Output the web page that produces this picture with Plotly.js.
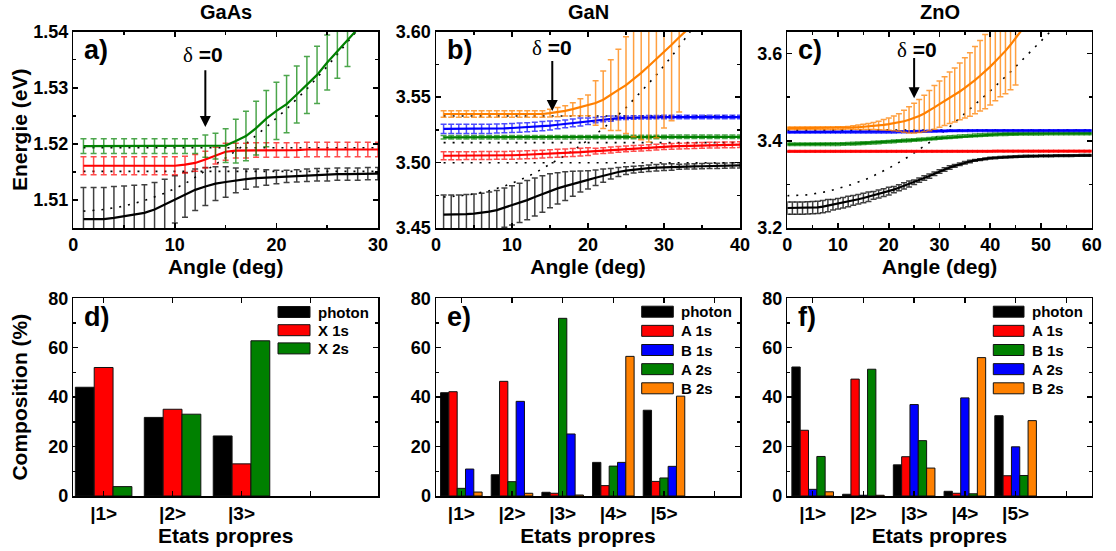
<!DOCTYPE html>
<html><head><meta charset="utf-8">
<script src="https://cdn.plot.ly/plotly-3.0.1.min.js"></script>
<style>html,body{margin:0;padding:0;background:#fff;}#chart{width:1116px;height:551px;}</style>
</head><body><div id="chart"></div>
<script>
// ---------------- GaAs (a) ----------------
const gaasAngle = [1,2,3,4,5,6,7,8,9,10,11,12,13,14,15,16,17,18,19,20,21,22,23,24,25,26,27,28,29,30];
const gaasLower = [1.5066,1.5066,1.5066,1.5068,1.5071,1.5074,1.5077,1.5083,1.5092,1.5101,1.5109,1.5118,1.5124,1.5129,1.5132,1.5135,1.5137,1.5139,1.5140,1.5141,1.5142,1.5143,1.5144,1.5145,1.5145,1.5146,1.5146,1.5146,1.5147,1.5147];
const gaasLowerErr = [0.0056,0.0056,0.0056,0.0056,0.0054,0.0052,0.0050,0.0048,0.0045,0.0042,0.0040,0.0037,0.0034,0.0030,0.0027,0.0022,0.0018,0.0016,0.0014,0.0012,0.0011,0.0011,0.0011,0.0011,0.0011,0.0011,0.0011,0.0011,0.0011,0.0011];
const gaasMiddle = [1.5161,1.5161,1.5161,1.5161,1.5161,1.5161,1.5161,1.5161,1.5161,1.5161,1.5163,1.5166,1.5172,1.5179,1.5186,1.5188,1.5188,1.5189,1.5189,1.5189,1.5189,1.5189,1.5190,1.5190,1.5190,1.5190,1.5190,1.5190,1.5190,1.5190];
const gaasMiddleErr = [0.0016,0.0016,0.0016,0.0016,0.0016,0.0016,0.0016,0.0016,0.0016,0.0016,0.0015,0.0015,0.0015,0.0015,0.0015,0.0013,0.0013,0.0013,0.0013,0.0013,0.0013,0.0013,0.0013,0.0013,0.0013,0.0013,0.0013,0.0013,0.0013,0.0013];
const gaasUpperAngle = [1,2,3,4,5,6,7,8,9,10,11,12,13,14,15,16,17,18,19,20,21,22,23,24,25,26,27,28];
const gaasUpper = [1.5196,1.5196,1.5196,1.5196,1.5196,1.5196,1.5196,1.5196,1.5196,1.5196,1.5196,1.5196,1.5196,1.5196,1.5197,1.5205,1.5214,1.5228,1.5245,1.5259,1.5271,1.5288,1.5305,1.5323,1.5345,1.5365,1.5386,1.5405];
const gaasUpperErr = [0.0013,0.0013,0.0013,0.0013,0.0013,0.0013,0.0013,0.0013,0.0013,0.0013,0.0013,0.0013,0.0020,0.0023,0.0030,0.0039,0.0044,0.0048,0.0050,0.0051,0.0051,0.0051,0.0051,0.0051,0.0049,0.0048,0.0048,NaN];
const gaasPhotonAngle = [1,3,5,7,9,11,13,15,17,19,21,23,25,27,29];
const gaasPhoton = [1.5080,1.5083,1.5089,1.5099,1.5112,1.5129,1.5152,1.5175,1.5200,1.5230,1.5262,1.5298,1.5338,1.5380,1.5425];
const gaasExcitonLevels = [1.5151,1.5193];

// ---------------- GaN (b) ----------------
const ganAngle = [1,2,3,4,5,6,7,8,9,10,11,12,13,14,15,16,17,18,19,20,21,22,23,24,25,26,27,28,29,30,31,32,33,34,35,36,37,38,39,40];
const ganLower = [3.4602,3.4602,3.4603,3.4606,3.4610,3.4615,3.4625,3.4637,3.4655,3.4672,3.4692,3.4713,3.4737,3.4760,3.4784,3.4803,3.4820,3.4838,3.4855,3.4868,3.4884,3.4900,3.4915,3.4928,3.4938,3.4946,3.4951,3.4957,3.4961,3.4964,3.4966,3.4968,3.4970,3.4971,3.4972,3.4974,3.4975,3.4976,3.4978,3.4979];
const ganLowerErr = [0.015,0.015,0.015,0.015,0.015,0.015,0.015,0.015,0.015,0.015,0.015,0.015,0.0145,0.014,0.013,0.012,0.011,0.0095,0.008,0.007,0.006,0.005,0.004,0.0035,0.003,0.0025,0.0025,0.0025,0.0025,0.0025,0.0025,0.002,0.002,0.002,0.002,0.002,0.002,0.002,0.002,0.002];
const ganA1s = [3.5052,3.5052,3.5052,3.5053,3.5053,3.5054,3.5054,3.5055,3.5055,3.5056,3.5058,3.5060,3.5062,3.5065,3.5068,3.5071,3.5074,3.5077,3.5080,3.5084,3.5088,3.5092,3.5096,3.5100,3.5104,3.5108,3.5111,3.5115,3.5118,3.5121,3.5124,3.5126,3.5128,3.5130,3.5132,3.5133,3.5134,3.5135,3.5136,3.5137];
const ganA1sErr = [0.003,0.003,0.003,0.003,0.003,0.003,0.003,0.003,0.003,0.003,0.003,0.003,0.003,0.003,0.003,0.003,0.003,0.003,0.003,0.003,0.0022,0.0022,0.0022,0.0022,0.0022,0.0022,0.0022,0.0022,0.0022,0.0022,0.0022,0.0022,0.0022,0.0022,0.0022,0.0022,0.0022,0.0022,0.0022,0.0022];
const ganA2s = [3.5193,3.5193,3.5193,3.5193,3.5193,3.5193,3.5193,3.5193,3.5193,3.5193,3.5193,3.5193,3.5193,3.5193,3.5193,3.5193,3.5193,3.5193,3.5193,3.5193,3.5195,3.5195,3.5195,3.5195,3.5195,3.5195,3.5195,3.5195,3.5195,3.5195,3.5197,3.5197,3.5197,3.5197,3.5197,3.5197,3.5197,3.5197,3.5197,3.5197];
const ganA2sErr = [0.0013,0.0013,0.0013,0.0013,0.0013,0.0013,0.0013,0.0013,0.0013,0.0013,0.0013,0.0013,0.0013,0.0013,0.0013,0.0013,0.0013,0.0013,0.0013,0.0013,0.0013,0.0013,0.0013,0.0013,0.0013,0.0013,0.0013,0.0013,0.0013,0.0013,0.0013,0.0013,0.0013,0.0013,0.0013,0.0013,0.0013,0.0013,0.0013,0.0013];
const ganB1s = [3.5257,3.5257,3.5257,3.5257,3.5257,3.5257,3.5258,3.5260,3.5262,3.5264,3.5267,3.5270,3.5274,3.5278,3.5283,3.5289,3.5296,3.5303,3.5310,3.5316,3.5324,3.5331,3.5336,3.5340,3.5342,3.5344,3.5345,3.5346,3.5347,3.5348,3.5348,3.5348,3.5348,3.5348,3.5348,3.5348,3.5348,3.5348,3.5348,3.5348];
const ganB1sErr = [0.0035,0.0035,0.0035,0.0035,0.0035,0.0035,0.0035,0.0035,0.0035,0.0035,0.0035,0.0035,0.0035,0.0035,0.0035,0.003,0.003,0.003,0.003,0.0025,0.002,0.002,0.002,0.0013,0.0013,0.0013,0.0013,0.0013,0.0013,0.0013,0.0013,0.0013,0.0013,0.0013,0.0013,0.0013,0.0013,0.0013,0.0013,0.0013];
const ganB2sAngle = [1,2,3,4,5,6,7,8,9,10,11,12,13,14,15,16,17,18,19,20,21,22,23,24,25,26,27,28,29,30,31,32,33];
const ganB2s = [3.5371,3.5371,3.5371,3.5371,3.5371,3.5371,3.5371,3.5371,3.5371,3.5371,3.5371,3.5371,3.5371,3.5371,3.5378,3.5385,3.5395,3.5408,3.5422,3.5437,3.5455,3.5480,3.5515,3.5555,3.5592,3.5637,3.5685,3.5738,3.5790,3.5845,3.5900,3.5957,3.6012];
const ganB2sErr = [0.0025,0.0025,0.0025,0.0025,0.0025,0.0025,0.0025,0.0025,0.0025,0.0025,0.0025,0.0025,0.0025,0.0025,0.003,0.0035,0.004,0.005,0.0065,0.008,0.017,0.022,0.027,0.031,0.037,0.044,0.051,0.058,0.060,0.058,0.058,0.057,NaN];
const ganPhotonAngle = [1,3,5,7,9,11,13,15,17,19,21,23,25,27,29,31,33,35];
const ganPhoton = [3.4737,3.4745,3.4760,3.4785,3.4820,3.4865,3.4920,3.4985,3.5055,3.5130,3.5215,3.5310,3.5420,3.5543,3.5670,3.5810,3.5960,3.6120];
const ganExcitonLevels = [3.4999,3.5152,3.5356];

// ---------------- ZnO (c) ----------------
const znoAngle = [0,1,2,3,4,5,6,7,8,9,10,11,12,13,14,15,16,17,18,19,20,21,22,23,24,25,26,27,28,29,30,31,32,33,34,35,36,37,38,39,40,41,42,43,44,45,46,47,48,49,50,51,52,53,54,55,56,57,58,59,60];
const znoLower = [3.2458,3.2458,3.2458,3.2458,3.2460,3.2465,3.2475,3.2490,3.2512,3.2533,3.2555,3.2580,3.2605,3.2633,3.2660,3.2688,3.2718,3.2748,3.2780,3.2812,3.2845,3.2880,3.2923,3.2965,3.3008,3.3050,3.3098,3.3145,3.3190,3.3245,3.3295,3.3342,3.3385,3.3425,3.3462,3.3495,3.3525,3.3550,3.3570,3.3587,3.3600,3.3610,3.3617,3.3625,3.3632,3.3637,3.3641,3.3645,3.3648,3.3650,3.3652,3.3654,3.3656,3.3658,3.3659,3.3660,3.3661,3.3662,3.3663,3.3664,3.3665];
const znoLowerErr = [0.014,0.014,0.014,0.014,0.014,0.014,0.014,0.014,0.014,0.012,0.012,0.012,0.012,0.011,0.011,0.011,0.011,0.009,0.009,0.009,0.009,0.007,0.007,0.007,0.007,0.005,0.005,0.005,0.005,0.004,0.004,0.004,0.004,0.003,0.003,0.003,0.003,0.002,0.002,0.002,0.002,0.002,0.002,0.002,0.002,0.002,0.002,0.002,0.002,0.002,0.002,0.002,0.002,0.002,0.002,0.002,0.002,0.002,0.002,0.002,0.002];
const znoA1s = [3.3755,3.3755,3.3755,3.3755,3.3755,3.3755,3.3755,3.3755,3.3755,3.3755,3.3755,3.3755,3.3755,3.3755,3.3755,3.3755,3.3755,3.3755,3.3755,3.3755,3.3755,3.3758,3.3758,3.3758,3.3758,3.3758,3.3758,3.3758,3.3758,3.3758,3.3758,3.3758,3.3758,3.3758,3.3758,3.3758,3.3758,3.3758,3.3758,3.3758,3.3758,3.3762,3.3762,3.3762,3.3762,3.3762,3.3762,3.3762,3.3762,3.3762,3.3762,3.3762,3.3762,3.3762,3.3762,3.3762,3.3762,3.3762,3.3762,3.3762,3.3762];
const znoA1sErr = [0.002,0.002,0.002,0.002,0.002,0.002,0.002,0.002,0.002,0.002,0.002,0.002,0.002,0.002,0.002,0.002,0.002,0.002,0.002,0.002,0.002,0.002,0.002,0.002,0.002,0.002,0.002,0.002,0.002,0.002,0.002,0.002,0.002,0.002,0.002,0.002,0.002,0.002,0.002,0.002,0.002,0.002,0.002,0.002,0.002,0.002,0.002,0.002,0.002,0.002,0.002,0.002,0.002,0.002,0.002,0.002,0.002,0.002,0.002,0.002,0.002];
const znoB1s = [3.3920,3.3920,3.3920,3.3920,3.3920,3.3920,3.3920,3.3920,3.3920,3.3920,3.3920,3.3925,3.3930,3.3935,3.3940,3.3945,3.3950,3.3957,3.3964,3.3970,3.3978,3.3986,3.3994,3.4002,3.4010,3.4018,3.4027,3.4036,3.4045,3.4055,3.4065,3.4074,3.4083,3.4092,3.4100,3.4108,3.4116,3.4123,3.4130,3.4136,3.4141,3.4146,3.4150,3.4153,3.4156,3.4158,3.4160,3.4161,3.4162,3.4163,3.4164,3.4165,3.4165,3.4166,3.4166,3.4166,3.4167,3.4167,3.4167,3.4167,3.4167];
const znoB1sErr = [0.003,0.003,0.003,0.003,0.003,0.003,0.003,0.003,0.003,0.003,0.003,0.003,0.003,0.003,0.003,0.003,0.003,0.003,0.003,0.003,0.003,0.003,0.003,0.003,0.003,0.003,0.003,0.003,0.003,0.003,0.003,0.003,0.003,0.003,0.003,0.003,0.003,0.003,0.003,0.003,0.003,0.003,0.003,0.003,0.003,0.003,0.003,0.003,0.003,0.003,0.003,0.003,0.003,0.003,0.003,0.003,0.003,0.003,0.003,0.003,0.003];
const znoA2s = [3.4197,3.4197,3.4197,3.4197,3.4197,3.4197,3.4197,3.4197,3.4197,3.4197,3.4197,3.4197,3.4197,3.4197,3.4197,3.4197,3.4197,3.4197,3.4197,3.4197,3.4197,3.4199,3.4202,3.4205,3.4208,3.4211,3.4214,3.4217,3.4220,3.4223,3.4226,3.4228,3.4230,3.4232,3.4233,3.4234,3.4235,3.4235,3.4235,3.4235,3.4235,3.4235,3.4235,3.4235,3.4235,3.4235,3.4235,3.4235,3.4235,3.4235,3.4235,3.4235,3.4235,3.4235,3.4235,3.4235,3.4235,3.4235,3.4235,3.4235,3.4235];
const znoA2sErr = [0.002,0.002,0.002,0.002,0.002,0.002,0.002,0.002,0.002,0.002,0.002,0.002,0.002,0.002,0.002,0.002,0.002,0.002,0.002,0.002,0.002,0.002,0.002,0.002,0.002,0.002,0.002,0.002,0.002,0.002,0.002,0.002,0.002,0.002,0.002,0.002,0.002,0.002,0.002,0.002,0.002,0.002,0.002,0.002,0.002,0.002,0.002,0.002,0.002,0.002,0.002,0.002,0.002,0.002,0.002,0.002,0.002,0.002,0.002,0.002,0.002];
const znoB2sAngle = [0,1,2,3,4,5,6,7,8,9,10,11,12,13,14,15,16,17,18,19,20,21,22,23,24,25,26,27,28,29,30,31,32,33,34,35,36,37,38,39,40,41,42,43,44,45,46,47];
const znoB2s = [3.4288,3.4288,3.4288,3.4288,3.4288,3.4288,3.4288,3.4288,3.4288,3.4288,3.4290,3.4293,3.4298,3.4305,3.4310,3.4318,3.4327,3.4337,3.4350,3.4365,3.4380,3.4398,3.4420,3.4447,3.4480,3.4520,3.4568,3.4625,3.4690,3.4765,3.4840,3.4910,3.4985,3.5050,3.5130,3.5210,3.5290,3.5390,3.5490,3.5586,3.5700,3.5816,3.5930,3.6060,3.6200,3.6350,3.6500,3.6660];
const znoB2sErr = [0.003,0.003,0.003,0.003,0.003,0.003,0.003,0.003,0.003,0.003,0.003,0.003,0.003,0.004,0.005,0.006,0.007,0.008,0.010,0.012,0.014,0.017,0.020,0.025,0.030,0.034,0.038,0.042,0.046,0.050,0.053,0.056,0.059,0.062,0.065,0.069,0.073,0.077,0.081,0.085,0.088,0.090,0.092,0.098,0.103,0.107,NaN,NaN];
const znoPhotonAngle = [0,4,8,12,16,20,24,28,32,36,40,44,48,52];
const znoPhoton = [3.274,3.276,3.284,3.297,3.314,3.337,3.364,3.396,3.432,3.472,3.514,3.558,3.604,3.652];
const znoExcitonLevels = [3.3755,3.4243];

// ---------------- Compositions (d, e, f) ----------------
const gaasStates = ['|1>','|2>','|3>'];
const gaasSeries = ['photon','X 1s','X 2s'];
const gaasPhotonPct = [44.0,31.8,24.3];
const gaasX1sPct = [52.0,35.1,13.0];
const gaasX2sPct = [3.8,33.1,62.8];

const ganStates = ['|1>','|2>','|3>','|4>','|5>'];
const ganSeries = ['photon','A 1s','B 1s','A 2s','B 2s'];
const ganPhotonPct = [41.8,8.6,1.5,13.6,34.7];
const ganA1sPct = [42.2,46.4,1.1,4.2,5.9];
const ganB1sPct = [10.9,38.3,25.1,13.6,12.0];
const ganA2sPct = [3.1,5.8,71.9,12.1,7.3];
const ganB2sPct = [1.6,1.1,0.4,56.5,40.4];

const znoStates = ['|1>','|2>','|3>','|4>','|5>'];
const znoSeries = ['photon','A 1s','B 1s','A 2s','B 2s'];
const znoPhotonPct = [52.2,0.7,12.6,1.9,32.5];
const znoA1sPct = [26.6,47.3,15.9,1.1,8.2];
const znoB1sPct = [16.0,51.3,22.4,0.9,8.3];
const znoA2sPct = [2.7,0.3,37.0,39.7,19.9];
const znoB2sPct = [1.7,0.3,11.3,56.0,30.5];

// ---------------- styling / layout ----------------
const C = {k:'#000000', r:'#ff0000', g:'#008000', b:'#0000ff', o:'#ff8000'};
const CE = {k:'rgba(0,0,0,0.75)', r:'rgba(255,0,0,0.7)', g:'rgba(0,128,0,0.7)', b:'rgba(0,0,255,0.7)', o:'rgba(255,128,0,0.75)'};
const W=1116, H=551, M={l:73,r:24,t:31,b:55};
const PW=W-M.l-M.r, PH=H-M.t-M.b;
const xp = px => (px-M.l)/PW;
const yp = py => (H-M.b-py)/PH;
const FONT = 'Liberation Sans, Arial, Helvetica, sans-serif';
const tickFont = {family:FONT, size:18, color:'#000', weight:'bold'};
const barTickFont = {family:FONT, size:19, color:'#000', weight:'bold'};
const axTitleFont = {family:FONT, size:21, color:'#000', weight:'bold'};

function solid(x,y,err,c,ax){
  return {type:'scatter', mode:'lines', x:x, y:y, xaxis:ax[0], yaxis:ax[1],
    line:{color:C[c], width:2.2}, showlegend:false, hoverinfo:'skip',
    error_y:{type:'data', array:err, visible:true, color:CE[c], thickness:1.5, width:3}};
}
function dotted(x,y,ax){
  return {type:'scatter', mode:'lines', x:x, y:y, xaxis:ax[0], yaxis:ax[1],
    line:{color:'#000', width:1.6, dash:'2px,7px'}, showlegend:false, hoverinfo:'skip'};
}
function level(v,xs,ax){ return dotted([xs[0], xs[xs.length-1]],[v,v],ax); }
function bars(states,vals,c,ax){
  return {type:'bar', x:states.map((s,i)=>i+1), y:vals, xaxis:ax[0], yaxis:ax[1],
    marker:{color:C[c], line:{color:'#111', width:1}}, showlegend:false, hoverinfo:'skip'};
}

const A=['x','y'], B=['x2','y2'], Cc=['x3','y3'], D=['x4','y4'], E=['x5','y5'], F=['x6','y6'];
const traces = [];
gaasExcitonLevels.forEach(v=>traces.push(level(v,gaasAngle,A)));
traces.push(dotted(gaasPhotonAngle,gaasPhoton,A));
traces.push(solid(gaasAngle,gaasLower,gaasLowerErr,'k',A));
traces.push(solid(gaasAngle,gaasMiddle,gaasMiddleErr,'r',A));
traces.push(solid(gaasUpperAngle,gaasUpper,gaasUpperErr,'g',A));

ganExcitonLevels.forEach(v=>traces.push(level(v,ganAngle,B)));
traces.push(dotted(ganPhotonAngle,ganPhoton,B));
traces.push(solid(ganAngle,ganLower,ganLowerErr,'k',B));
traces.push(solid(ganAngle,ganA1s,ganA1sErr,'r',B));
traces.push(solid(ganAngle,ganA2s,ganA2sErr,'g',B));
traces.push(solid(ganAngle,ganB1s,ganB1sErr,'b',B));
traces.push(solid(ganB2sAngle,ganB2s,ganB2sErr,'o',B));

znoExcitonLevels.forEach(v=>traces.push(level(v,znoAngle,Cc)));
traces.push(dotted(znoPhotonAngle,znoPhoton,Cc));
traces.push(solid(znoAngle,znoLower,znoLowerErr,'k',Cc));
traces.push(solid(znoAngle,znoA1s,znoA1sErr,'r',Cc));
traces.push(solid(znoAngle,znoB1s,znoB1sErr,'g',Cc));
traces.push(solid(znoAngle,znoA2s,znoA2sErr,'b',Cc));
traces.push(solid(znoB2sAngle,znoB2s,znoB2sErr,'o',Cc));

traces.push(bars(gaasStates,gaasPhotonPct,'k',D));
traces.push(bars(gaasStates,gaasX1sPct,'r',D));
traces.push(bars(gaasStates,gaasX2sPct,'g',D));

traces.push(bars(ganStates,ganPhotonPct,'k',E));
traces.push(bars(ganStates,ganA1sPct,'r',E));
traces.push(bars(ganStates,ganA2sPct,'g',E));
traces.push(bars(ganStates,ganB1sPct,'b',E));
traces.push(bars(ganStates,ganB2sPct,'o',E));

traces.push(bars(znoStates,znoPhotonPct,'k',F));
traces.push(bars(znoStates,znoA1sPct,'r',F));
traces.push(bars(znoStates,znoA2sPct,'b',F));
traces.push(bars(znoStates,znoB1sPct,'g',F));
traces.push(bars(znoStates,znoB2sPct,'o',F));

function axis(extra){
  return Object.assign({showline:true, mirror:'allticks', linecolor:'#000', linewidth:1.5,
    ticks:'inside', ticklen:5, tickwidth:1.5, tickcolor:'#000', showgrid:false, zeroline:false,
    tickfont:tickFont, automargin:false, fixedrange:true}, extra);
}
const topDom = [yp(228), yp(31.7)], botDom = [yp(496), yp(298.3)];
const colA = [xp(73.3), xp(378)], colB = [xp(436), xp(740)], colC = [xp(787.3), xp(1091.7)];
const minorT = d => ({dtick:d, ticks:'inside', ticklen:3, tickwidth:1.5, tickcolor:'#000'});
const xTitle = t => ({text:t, font:axTitleFont, standoff:0});
const barTicks = (states,n) => ({tickmode:'array', tickvals:Array.from({length:n},(v,i)=>i+1),
   ticktext:Array.from({length:n},(v,i)=>states[i]||''), tickfont:barTickFont});

const layout = {
  width:W, height:H, margin:M, paper_bgcolor:'#fff', plot_bgcolor:'#fff',
  showlegend:false, barmode:'group', bargap:0.18, bargroupgap:0,
  font:{family:FONT, color:'#000'},
  xaxis: axis({domain:colA, anchor:'y', range:[0,30], tick0:0, dtick:10, minor:minorT(5), title:xTitle('Angle (deg)')}),
  yaxis: axis({domain:topDom, anchor:'x', range:[1.505,1.54], tick0:1.5, dtick:0.01, tickformat:'.2f', minor:minorT(0.005), title:{text:'Energie (eV)', font:axTitleFont, standoff:0}}),
  xaxis2: axis({domain:colB, anchor:'y2', range:[0,40], tick0:0, dtick:10, minor:minorT(5), title:xTitle('Angle (deg)')}),
  yaxis2: axis({domain:topDom, anchor:'x2', range:[3.45,3.60], tick0:3.45, dtick:0.05, tickformat:'.2f', minor:minorT(0.025)}),
  xaxis3: axis({domain:colC, anchor:'y3', range:[0,60], tick0:0, dtick:10, minor:minorT(5), title:xTitle('Angle (deg)')}),
  yaxis3: axis({domain:topDom, anchor:'x3', range:[3.2,3.65], tick0:3.2, dtick:0.2, tickformat:'.1f', minor:minorT(0.1)}),
  xaxis4: axis(Object.assign({domain:colA, anchor:'y4', range:[0.56,4.98], title:xTitle('Etats propres')}, barTicks(gaasStates,5))),
  yaxis4: axis({domain:botDom, anchor:'x4', range:[0,80], tick0:0, dtick:20, minor:minorT(10), title:{text:'Composition (%)', font:axTitleFont, standoff:15}}),
  xaxis5: axis(Object.assign({domain:colB, anchor:'y5', range:[0.5,6.5], title:xTitle('Etats propres')}, barTicks(ganStates,6))),
  yaxis5: axis({domain:botDom, anchor:'x5', range:[0,80], tick0:0, dtick:20, minor:minorT(10)}),
  xaxis6: axis(Object.assign({domain:colC, anchor:'y6', range:[0.5,6.5], title:xTitle('Etats propres')}, barTicks(znoStates,6))),
  yaxis6: axis({domain:botDom, anchor:'x6', range:[0,80], tick0:0, dtick:20, minor:minorT(10)}),
  annotations:[], shapes:[]
};

const ann = layout.annotations;
// panel titles
[['GaAs',225.5],['GaN',588],['ZnO',939.5]].forEach(([t,px])=>ann.push({text:t, xref:'paper', yref:'paper',
  x:xp(px), y:yp(12.5), xanchor:'center', yanchor:'middle', showarrow:false, font:{family:FONT, size:20, weight:'bold', color:'#000'}}));
// panel letters
[['a)','x','y'],['b)','x2','y2'],['c)','x3','y3'],['d)','x4','y4'],['e)','x5','y5'],['f)','x6','y6']].forEach(([t,xa,ya])=>
  ann.push({text:t, xref:xa+' domain', yref:ya+' domain', x:0.028, y:0.905, xanchor:'left', yanchor:'middle',
    showarrow:false, font:{family:FONT, size:27, weight:'bold', color:'#000'}}));
// delta = 0 arrows and labels
const deltaText = '<span style="font-family:\'Liberation Serif\',serif;font-weight:normal">δ</span> =0';
[['x','y',13,1.5230,1.5334,12.8,1.5358],['x2','y2',15.3,3.5394,3.5788,15.3,3.5875],['x3','y3',25,3.4975,3.5929,25.5,3.6073]].forEach(
  ([xa,ya,x,tip,tail,tx,ty])=>{
    ann.push({xref:xa, yref:ya, axref:xa, ayref:ya, x:x, y:tip, ax:x, ay:tail, text:'', showarrow:true,
      arrowhead:2, arrowsize:1.1, arrowwidth:2, arrowcolor:'#000'});
    ann.push({xref:xa, yref:ya, x:tx, y:ty, text:deltaText, showarrow:false,
      font:{family:FONT, size:21, weight:'bold', color:'#000'}});
  });
// manual legends
function legend(names, colors, swX0, swX1, textX, rowY0, rowStep){
  names.forEach((n,i)=>{
    const cy = rowY0 + i*rowStep;
    layout.shapes.push({type:'rect', xref:'paper', yref:'paper', x0:xp(swX0), x1:xp(swX1), y0:yp(cy+5.5), y1:yp(cy-5.5),
      fillcolor:C[colors[i]], line:{color:'#111', width:1}});
    ann.push({text:n, xref:'paper', yref:'paper', x:xp(textX), y:yp(cy), xanchor:'left', yanchor:'middle',
      showarrow:false, font:{family:FONT, size:15, weight:'bold', color:'#000'}});
  });
}
legend(gaasSeries, ['k','r','g'], 278, 310, 316, 312, 18.2);
legend(ganSeries, ['k','r','b','g','o'], 641.7, 673.3, 679, 311.7, 19.15);
legend(znoSeries, ['k','r','g','b','o'], 993.3, 1024, 1030, 311.7, 19.15);

Plotly.newPlot('chart', traces, layout, {staticPlot:true, displayModeBar:false});
</script></body></html>
